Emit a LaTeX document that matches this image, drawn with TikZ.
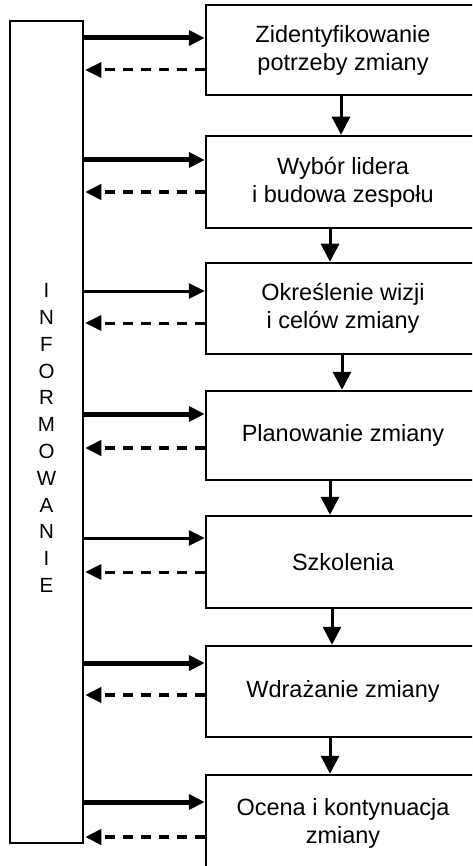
\documentclass[tikz,border=0pt]{standalone}
\usepackage{fontspec}
\setmainfont{Liberation Sans}
\usetikzlibrary{arrows.meta}
\begin{document}
\begin{tikzpicture}[x=1pt,y=-1pt,
  stage/.style={draw, line width=2.5pt, minimum width=274pt, inner sep=0pt,
    align=center, font=\fontsize{23.5}{28}\selectfont},
  infobox/.style={draw, line width=2.5pt, minimum width=73pt, minimum height=822pt, inner sep=0pt},
  sendarr/.style={-{Triangle[length=16pt,width=15pt]}, line width=#1},
  backarr/.style={-{Triangle[length=16pt,width=15pt]}, line width=#1, dash pattern=on 10pt off 8pt},
  nextarr/.style={-{Triangle[length=18pt,width=18pt]}, line width=3pt}
]
\clip (0,0) rectangle (472,866);
\fill[white] (0,0) rectangle (472,866);

% information column
\node[infobox] (info) at (46.5,432) {};
\node[font=\fontsize{20.5}{26.8}\selectfont, align=center, inner sep=0pt] (word) at (46.5,438)
  {I\\N\\F\\O\\R\\M\\O\\W\\A\\N\\I\\E};

% stages of the change process
\node[stage, minimum height=90pt] (b1) at (343,50) {Zidentyfikowanie\\potrzeby zmiany};
\node[stage, minimum height=92pt] (b2) at (343,182) {Wybór lidera\\i budowa zespołu};
\node[stage, minimum height=91pt] (b3) at (343,308.5) {Określenie wizji\\i celów zmiany};
\node[stage, minimum height=89pt] (b4) at (343,435.5) {Planowanie zmiany};
\node[stage, minimum height=92pt] (b5) at (343,562) {Szkolenia};
\node[stage, minimum height=91pt] (b6) at (343,691.5) {Wdrażanie zmiany};
\node[stage, minimum height=96pt] (b7) at (343,823) {Ocena i kontynuacja\\zmiany};

% information flow between the column and each stage
\foreach \i/\ys/\yd/\ws/\wd in {1/38/70/5/3, 2/160/192/5/4.5, 3/291/323/3/3,
    4/414/448/5/4.5, 5/538/572/3/3, 6/663/695/5/4.5, 7/802/837/5/4.5}{
  \draw[sendarr=\ws pt] (info.east |- 0,\ys) -- (b\i.west |- 0,\ys);
  \draw[backarr=\wd pt] (b\i.west |- 0,\yd) -- ([xshift=1pt]info.east |- 0,\yd);
}

% sequence of stages
\foreach \a/\b/\x in {1/2/341, 2/3/330, 3/4/342, 4/5/330, 5/6/332, 6/7/330}{
  \draw[nextarr] (b\a.south -| \x,0) -- (b\b.north -| \x,0);
}
\end{tikzpicture}
\end{document}
